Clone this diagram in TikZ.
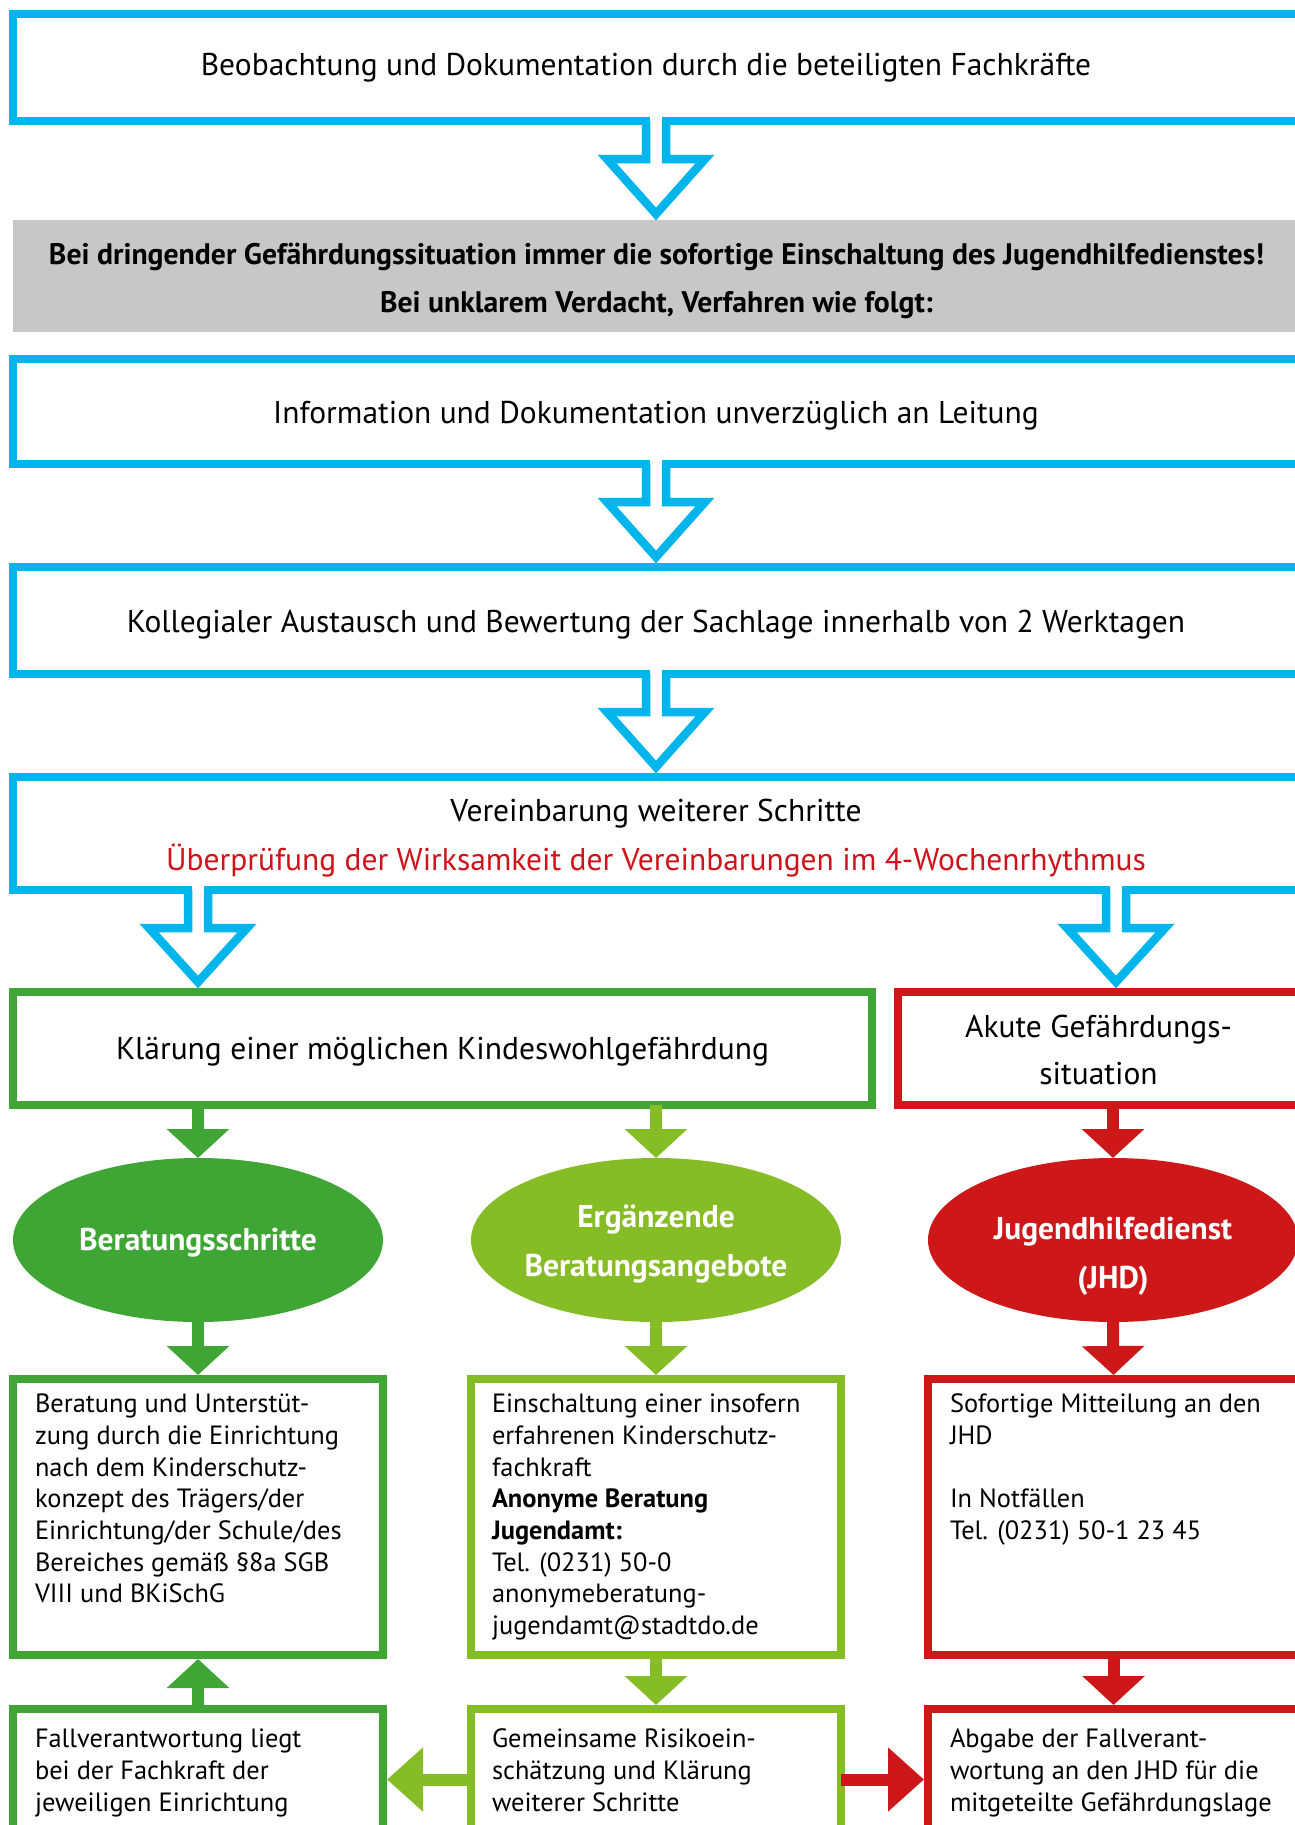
\documentclass[tikz,border=0pt]{standalone}
\usepackage{fontspec}
\setmainfont{PT Sans}
\usetikzlibrary{arrows.meta,calc,shapes.geometric}
\definecolor{cblue}{HTML}{00B5EB}
\definecolor{dgreen}{HTML}{3FA535}
\definecolor{lgreen}{HTML}{86BC25}
\definecolor{cred}{HTML}{CD1719}
\definecolor{cgray}{HTML}{C6C7C6}
\definecolor{tred}{HTML}{D0121B}

\newcommand\hollowarrow[4]{%
  \coordinate (ha-x) at (#3,0);
  \coordinate (ha-s) at (#1.south -| ha-x);
  \coordinate (ha-e) at (#2.north -| ha-x);
  \fill[white] ($(ha-s)+(-6,-6)$) rectangle ($(ha-s)+(6,40)$);
  \draw[cblue, line width=8.5pt, line join=miter, fill=white]
    ($(ha-s)+(-10,0)$) -- ($(ha-s)+(-10,38)$) -- ($(ha-s)+(-49,38)$) --
    ($(ha-e)+(0,-#4)$) -- ($(ha-s)+(49,38)$) -- ($(ha-s)+(10,38)$) -- ($(ha-s)+(10,0)$);
}

\begin{document}
\begin{tikzpicture}[x=1pt,y=-1pt,
  every node/.style={inner sep=0pt, outer sep=0pt},
  frame/.style={draw=#1, line width=8.5pt, rectangle},
  maintext/.style={font=\fontsize{31.5}{49}\selectfont, align=center, yshift=-4pt},
  smalltext/.style={font=\fontsize{26.4}{31.7}\selectfont, align=left, anchor=north west},
  ell/.style={ellipse, fill=#1, minimum width=370pt, minimum height=164pt},
  elltext/.style={font=\bfseries\fontsize{31.5}{49}\selectfont, text=white, align=center},
  farrow/.style={draw=#1, line width=12pt, -{Triangle[length=29pt,width=61pt]}},
  harrow/.style={draw=#1, line width=12pt, -{Triangle[length=36pt,width=62pt]}}
]
\useasboundingbox (0,0) rectangle (1295,1825);
\fill[white] (0,0) rectangle (1295,1825);
\clip (0,0) rectangle (1295,1825);

% top blue boxes
\node[frame=cblue, minimum width=1286pt, minimum height=107pt] (b1) at (656,67.5) {};
\node[maintext, yshift=3.5pt, xshift=-10pt] (b1t) at (b1) {Beobachtung und Dokumentation durch die beteiligten Fachkräfte};
\node[fill=cgray, minimum width=1287pt, minimum height=112pt] (gray) at (656.5,276) {};
\node[font=\bfseries\fontsize{29.7}{48}\selectfont, align=center, yshift=-5pt] (grayt) at (gray)
  {Bei dringender Gefährdungssituation immer die sofortige Einschaltung des Jugendhilfedienstes!\\
   Bei unklarem Verdacht, Verfahren wie folgt:};
\node[frame=cblue, minimum width=1286pt, minimum height=105pt] (b2) at (656,411.5) {};
\node[maintext] (b2t) at (b2) {Information und Dokumentation unverzüglich an Leitung};
\node[frame=cblue, minimum width=1286pt, minimum height=107pt] (b3) at (656,620.5) {};
\node[maintext] (b3t) at (b3) {Kollegialer Austausch und Bewertung der Sachlage innerhalb von 2 Werktagen};
\node[frame=cblue, minimum width=1286pt, minimum height=113pt] (b4) at (656,833.5) {};
\node[maintext, yshift=-1pt] (b4t) at (b4) {Vereinbarung weiterer Schritte\\
  \textcolor{tred}{Überprüfung der Wirksamkeit der Vereinbarungen im 4-Wochenrhythmus}};

% second level boxes
\node[frame=dgreen, minimum width=859pt, minimum height=113pt] (gbox) at (442.5,1048.5) {};
\node[maintext, yshift=1pt] (gboxt) at (gbox) {Klärung einer möglichen Kindeswohlgefährdung};
\node[frame=cred, minimum width=401pt, minimum height=113pt] (rbox) at (1098.5,1048.5) {};
\node[maintext, font=\fontsize{31.5}{47}\selectfont, yshift=3pt] (rboxt) at (rbox) {Akute Gefährdungs-\\situation};

% hollow arrows
\hollowarrow{b1}{gray}{656}{6}
\hollowarrow{b2}{b3}{656}{10}
\hollowarrow{b3}{b4}{656}{10}
\hollowarrow{b4}{gbox}{198}{10}
\hollowarrow{b4}{rbox}{1116}{10}

% ellipses
\node[ell=dgreen] (e1) at (198,1240) {};
\node[ell=lgreen] (e2) at (656,1240) {};
\node[ell=cred] (e3) at (1113,1240) {};
\node[elltext] (e1t) at (198,1242.5) {Beratungsschritte};
\node[elltext] (e2t) at (656,1243.5) {Ergänzende\\Beratungsangebote};
\node[elltext] (e3t) at (1113,1256) {Jugendhilfedienst\\(JHD)};

% row 3 boxes
\node[frame=dgreen, minimum width=370pt, minimum height=276pt] (l3) at (198,1517) {};
\node[frame=lgreen, minimum width=370pt, minimum height=276pt] (m3) at (656,1517) {};
\node[frame=cred, minimum width=371pt, minimum height=276pt] (r3) at (1113.5,1517) {};
% row 4 boxes
\node[frame=dgreen, minimum width=370pt, minimum height=141pt] (l4) at (198,1779.5) {};
\node[frame=lgreen, minimum width=370pt, minimum height=141pt] (m4) at (656,1779.5) {};
\node[frame=cred, minimum width=371pt, minimum height=141pt] (r4) at (1113.5,1779.5) {};

% texts in rows 3 and 4
\node[smalltext] (l3t) at ($(l3.north west)+(22,15)$)
  {Beratung und Unterstüt-\\zung durch die Einrichtung\\nach dem Kinderschutz-\\konzept des Trägers/der\\Einrichtung/der Schule/des\\Bereiches gemäß §8a SGB\\VIII und BKiSchG};
\node[smalltext] (m3t) at ($(m3.north west)+(21,15)$)
  {Einschaltung einer insofern\\erfahrenen Kinderschutz-\\fachkraft\\\textbf{Anonyme Beratung}\\\textbf{Jugendamt:}\\Tel. (0231) 50-0\\anonymeberatung-\\jugendamt@stadtdo.de};
\node[smalltext] (r3t) at ($(r3.north west)+(22,15)$)
  {Sofortige Mitteilung an den\\JHD\\ ~\\In Notfällen\\Tel. (0231) 50-1 23 45};
\node[smalltext] (l4t) at ($(l4.north west)+(22,20)$)
  {Fallverantwortung liegt\\bei der Fachkraft der\\jeweiligen Einrichtung};
\node[smalltext] (m4t) at ($(m4.north west)+(21,20)$)
  {Gemeinsame Risikoein-\\schätzung und Klärung\\weiterer Schritte};
\node[smalltext] (r4t) at ($(r4.north west)+(22,20)$)
  {Abgabe der Fallverant-\\wortung an den JHD für die\\mitgeteilte Gefährdungslage};

% filled arrows
\draw[farrow=dgreen] (gbox.south -| e1) -- (e1.north);
\draw[farrow=lgreen] (gbox.south -| e2) -- (e2.north);
\draw[farrow=cred] (rbox.south -| e3) -- (e3.north);
\draw[farrow=dgreen, shorten >=4pt] (e1.south) -- (l3.north);
\draw[farrow=lgreen, shorten >=4pt] (e2.south) -- (m3.north);
\draw[farrow=cred, shorten >=4pt] (e3.south) -- (r3.north);
\draw[farrow=dgreen, shorten >=4pt] (l4.north) -- (l3.south);
\draw[farrow=lgreen, shorten >=4pt] (m3.south) -- (m4.north);
\draw[farrow=cred, shorten >=4pt] (r3.south) -- (r4.north);
\draw[harrow=lgreen, shorten >=4pt] (m4.west) -- (l4.east);
\draw[harrow=cred, shorten >=4pt] (m4.east) -- (r4.west);
\end{tikzpicture}
\end{document}
